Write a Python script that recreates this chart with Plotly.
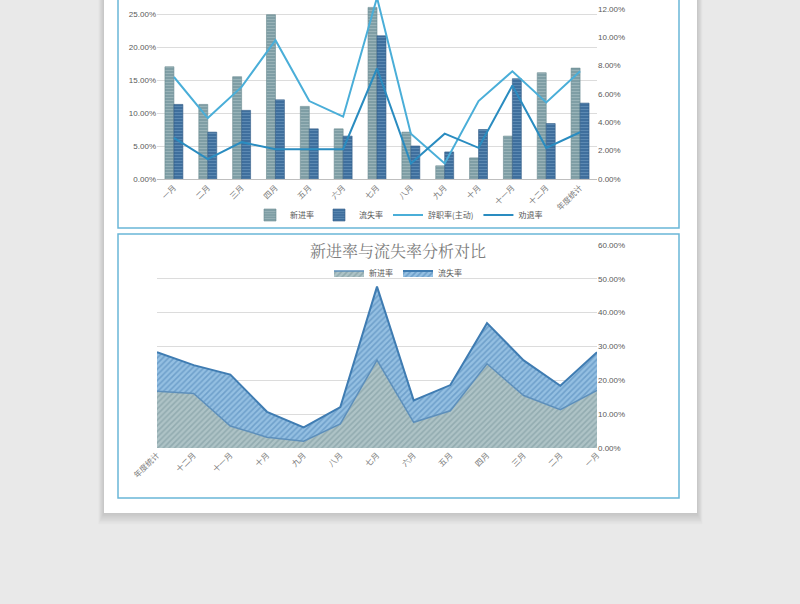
import plotly.graph_objects as go

# ---------------- data ----------------
months = ["一月", "二月", "三月", "四月", "五月", "六月", "七月", "八月",
          "九月", "十月", "十一月", "十二月", "年度统计"]
new_rate = [17.0, 11.3, 15.5, 24.9, 11.0, 7.6, 26.0, 7.1, 2.0, 3.2, 6.5, 16.1, 16.8]
loss_rate = [11.3, 7.1, 10.4, 12.0, 7.6, 6.5, 21.7, 5.0, 4.1, 7.5, 15.2, 8.4, 11.5]
resign_rate = [7.2, 4.3, 6.5, 9.8, 5.5, 4.4, 12.8, 3.2, 1.1, 5.5, 7.6, 5.4, 7.6]
dismiss_rate = [2.9, 1.4, 2.6, 2.1, 2.1, 2.1, 7.8, 1.1, 3.2, 2.2, 6.6, 2.2, 3.3]

title2 = "新进率与流失率分析对比"

# reversed order for the area chart
months_rev = months[::-1]
new_rev = new_rate[::-1]
loss_rev = loss_rate[::-1]

W, H = 800, 604
def px(x):
    return x / W
def py(y):
    return 1 - y / H

TXT = "#595959"
CAT = "#7a7a7a"
NUMFONT = "Liberation Sans, Arial, Noto Sans CJK SC"
CJK = "Noto Sans CJK SC, Microsoft YaHei"

fig = go.Figure()

# ---- top chart: bars + lines ----
fig.add_trace(go.Bar(
    x=months, y=new_rate, name="新进率", xaxis="x", yaxis="y", legend="legend",
    marker=dict(color="#7f9ea5", line=dict(color="#6a8990", width=0.6),
                pattern=dict(shape="-", fgcolor="#b3c8cb", size=3, solidity=0.35)),
))
fig.add_trace(go.Bar(
    x=months, y=loss_rate, name="流失率", xaxis="x", yaxis="y", legend="legend",
    marker=dict(color="#3f6f9d", line=dict(color="#325d87", width=0.6),
                pattern=dict(shape="-", fgcolor="#7aa3c8", size=3, solidity=0.35)),
))
fig.add_trace(go.Scatter(
    x=months, y=resign_rate, name="辞职率(主动)", xaxis="x", yaxis="y2", legend="legend",
    mode="lines", line=dict(color="#4aaed8", width=2),
))
fig.add_trace(go.Scatter(
    x=months, y=dismiss_rate, name="劝退率", xaxis="x", yaxis="y2", legend="legend",
    mode="lines", line=dict(color="#2a8cc0", width=2),
))

# ---- bottom chart: stacked areas ----
xi = list(range(len(months_rev)))
fig.add_trace(go.Scatter(
    x=xi, y=new_rev, name="新进率", xaxis="x3", yaxis="y3", legend="legend2",
    mode="lines", stackgroup="one", line=dict(color="#5d8fbb", width=1.5),
    fillcolor="#a3babd",
    fillpattern=dict(shape="/", bgcolor="#aec3c6", fgcolor="#76949a", size=4, solidity=0.4),
))
fig.add_trace(go.Scatter(
    x=xi, y=loss_rev, name="流失率", xaxis="x3", yaxis="y3", legend="legend2",
    mode="lines", stackgroup="one", line=dict(color="#3f7cb2", width=2),
    fillcolor="#80b0d8",
    fillpattern=dict(shape="/", bgcolor="#94bfe2", fgcolor="#4a82b4", size=4, solidity=0.4),
))

# ---- background shapes ----
shapes = []
# page shadow
for i in range(1, 8):
    shapes.append(dict(type="rect", xref="paper", yref="paper", layer="below",
                       x0=px(104 - i * 0.8), x1=px(697 + i * 0.8), y0=py(513 + i * 1.6), y1=py(-20),
                       fillcolor="rgba(0,0,0,0.018)", line=dict(width=0)))
# white page
shapes.append(dict(type="rect", xref="paper", yref="paper", layer="below",
                   x0=px(104), x1=px(697), y0=py(513), y1=py(-20),
                   fillcolor="#ffffff", line=dict(width=0)))
# panel borders
shapes.append(dict(type="rect", xref="paper", yref="paper", layer="below",
                   x0=px(118), x1=px(679), y0=py(228), y1=py(-10),
                   fillcolor="rgba(0,0,0,0)", line=dict(color="#6ab6d8", width=1.5)))
shapes.append(dict(type="rect", xref="paper", yref="paper", layer="below",
                   x0=px(118), x1=px(679), y0=py(498), y1=py(234),
                   fillcolor="rgba(0,0,0,0)", line=dict(color="#6ab6d8", width=1.5)))

top_y0 = 179
left_max = 25 * top_y0 / (top_y0 - 14)
right_max = 12 * top_y0 / (top_y0 - 9)

fig.update_layout(
    width=W, height=H,
    margin=dict(l=0, r=0, t=0, b=0, autoexpand=False),
    paper_bgcolor="#e9e9e9",
    plot_bgcolor="rgba(0,0,0,0)",
    barmode="group", bargap=0.47, bargroupgap=0,
    shapes=shapes,
    showlegend=True,
    xaxis=dict(domain=[px(157), px(597)], anchor="y", type="category", automargin=False,
               tickangle=-45, showgrid=False, showline=True, linecolor="#bfbfbf",
               linewidth=1, ticks="", tickfont=dict(family=CJK, size=8, color=CAT)),
    yaxis=dict(domain=[py(top_y0), 1], range=[0, left_max], dtick=5, automargin=False,
               tickformat=".2f", ticksuffix="%", showgrid=True, gridcolor="#dcdcdc",
               zeroline=False, showline=False, ticks="",
               tickfont=dict(family=NUMFONT, size=8, color=TXT)),
    yaxis2=dict(overlaying="y", side="right", anchor="x", range=[0, right_max], dtick=2,
                automargin=False,
                tickformat=".2f", ticksuffix="%", showgrid=False, zeroline=False,
                showline=False, ticks="", tickfont=dict(family=NUMFONT, size=8, color=TXT)),
    xaxis3=dict(domain=[px(157), px(597)], anchor="y3", range=[0, 12], automargin=False,
                tickvals=xi, ticktext=months_rev, tickangle=-45, showgrid=False,
                showline=False, zeroline=False, ticks="",
                tickfont=dict(family=CJK, size=8, color=CAT)),
    yaxis3=dict(domain=[py(448), py(245)], anchor="x3", side="right", range=[0, 60], dtick=10,
                automargin=False,
                tickformat=".2f", ticksuffix="%", showgrid=True, gridcolor="#dcdcdc",
                zeroline=False, showline=False, ticks="",
                tickfont=dict(family=NUMFONT, size=8, color=TXT)),
    legend=dict(orientation="h", x=px(399), xanchor="center", y=py(215), yanchor="middle",
                bgcolor="rgba(0,0,0,0)", font=dict(family=CJK, size=8, color=TXT),
                itemwidth=30, tracegroupgap=0),
    legend2=dict(orientation="h", x=px(398), xanchor="center", y=py(273), yanchor="middle",
                 bgcolor="rgba(0,0,0,0)", font=dict(family=CJK, size=8, color=TXT),
                 itemwidth=30, traceorder="normal"),
    annotations=[dict(text=title2, xref="paper", yref="paper", x=px(398), y=py(250),
                      xanchor="center", yanchor="middle", showarrow=False,
                      font=dict(family="Noto Serif CJK SC, Noto Sans CJK SC", size=16, color="#7c7c7c"))],
)

fig.write_html("out.html")
